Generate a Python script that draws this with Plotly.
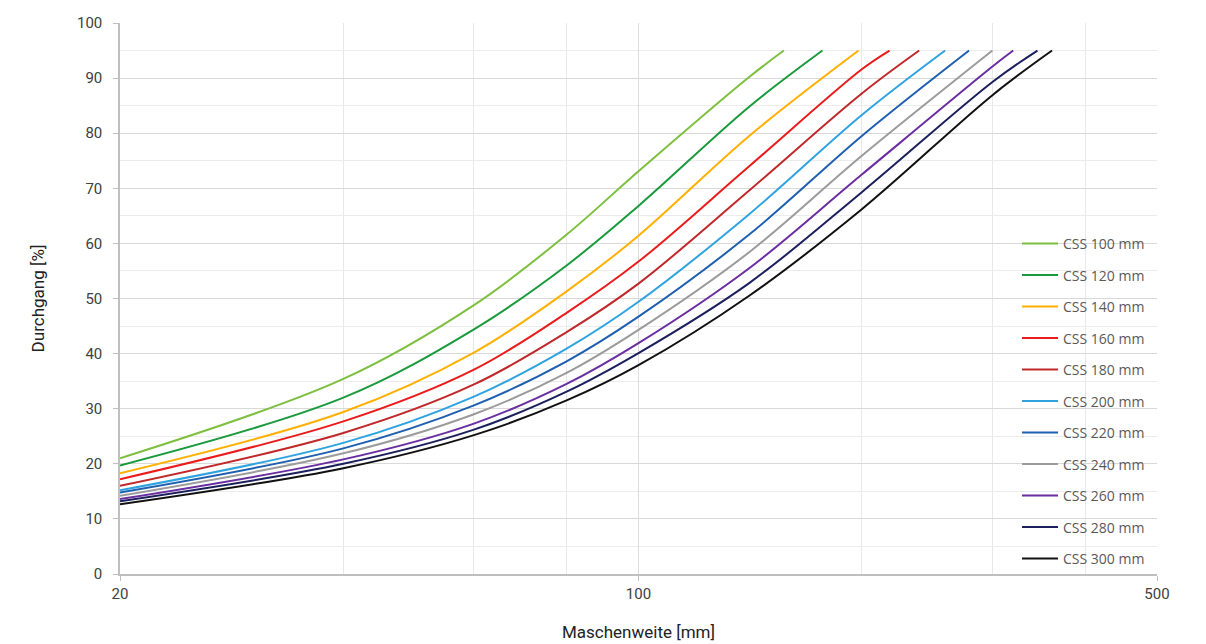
import plotly.graph_objects as go

# CSS settings (mm)
css = [100, 120, 140, 160, 180, 200, 220, 240, 260, 280, 300]
names = [f"CSS {c} mm" for c in css]

# Mesh sizes (mm) at which values were read, per curve; last point = curve end at 95 %
x_100 = [20, 40, 60, 80, 100, 141, 157]
y_100 = [21.0, 35.4, 48.8, 61.6, 73.1, 90.2, 95.0]
x_120 = [20, 40, 60, 80, 100, 141, 177]
y_120 = [19.7, 32.0, 44.4, 56.0, 66.8, 84.8, 95.0]
x_140 = [20, 40, 60, 80, 100, 141, 198]
y_140 = [18.3, 29.4, 40.2, 51.3, 61.4, 79.5, 95.0]
x_160 = [20, 40, 60, 80, 100, 141, 200, 218]
y_160 = [17.2, 27.7, 37.1, 47.4, 56.7, 74.0, 91.6, 95.0]
x_180 = [20, 40, 60, 80, 100, 141, 200, 239]
y_180 = [16.0, 25.6, 34.4, 43.9, 52.7, 69.6, 87.2, 95.0]
x_200 = [20, 40, 60, 80, 100, 141, 200, 259]
y_200 = [15.2, 23.8, 32.2, 40.9, 49.4, 65.3, 83.3, 95.0]
x_220 = [20, 40, 60, 80, 100, 141, 200, 279]
y_220 = [14.8, 22.8, 30.6, 38.6, 46.7, 61.6, 79.5, 95.0]
x_240 = [20, 40, 60, 80, 100, 141, 200, 300]
y_240 = [14.2, 21.9, 29.0, 36.5, 44.3, 58.4, 75.9, 95.0]
x_260 = [20, 40, 60, 80, 100, 141, 200, 300, 320]
y_260 = [13.6, 20.8, 27.3, 34.5, 41.9, 55.5, 72.5, 92.1, 95.0]
x_280 = [20, 40, 60, 80, 100, 141, 200, 300, 345]
y_280 = [13.2, 20.0, 26.2, 33.1, 40.1, 52.8, 69.3, 89.3, 95.0]
x_300 = [20, 40, 60, 80, 100, 141, 200, 300, 361]
y_300 = [12.65, 19.2, 25.2, 31.5, 37.9, 50.5, 66.2, 86.9, 95.0]

xs = [x_100, x_120, x_140, x_160, x_180, x_200, x_220, x_240, x_260, x_280, x_300]
ys = [y_100, y_120, y_140, y_160, y_180, y_200, y_220, y_240, y_260, y_280, y_300]

colors = ["#7dbf3f", "#1a9a3c", "#ffb000", "#ea1b1b", "#c0282a", "#2fa3e0",
          "#1f5fb0", "#9b9b9b", "#6a2ea0", "#1b1f5c", "#111111"]

x_ticks = [20, 100, 500]
x_minor = [40, 60, 80, 200, 300, 400]

fig = go.Figure()
for n, x, y, c in zip(names, xs, ys, colors):
    fig.add_trace(go.Scatter(x=x, y=y, mode="lines", name=n, legendgroup=n,
                             line=dict(color=c, width=2, shape="spline", smoothing=1.0)))

fig.update_layout(
    width=1206, height=644,
    margin=dict(l=112, r=57, t=15, b=78),
    paper_bgcolor="white", plot_bgcolor="white",
    font=dict(family="Roboto, sans-serif", color="#404040"),
    showlegend=True,
    legend=dict(x=0.865, y=0.628, xanchor="left", yanchor="top",
                bgcolor="rgba(0,0,0,0)", tracegroupgap=10.3, itemwidth=36,
                font=dict(size=14, color="#595959", family="Open Sans, sans-serif")),
)

fig.update_xaxes(
    type="log", range=[1.30103, 2.69897], automargin=False,
    tickvals=x_ticks, ticktext=[str(v) for v in x_ticks],
    tickfont=dict(size=15, color="#404040"),
    showgrid=True, gridcolor="#dcdcdc", gridwidth=1,
    showline=True, linecolor="#bfbfbf", linewidth=1.5,
    ticks="outside", ticklen=5, tickcolor="#bfbfbf",
    minor=dict(tickvals=x_minor, showgrid=True, gridcolor="#e8e8e8", ticks=""),
    title=dict(text="Maschenweite [mm]", font=dict(size=17, color="#222222"), standoff=24),
    zeroline=False,
)
fig.update_yaxes(
    range=[0, 100], dtick=10, tick0=0, automargin=False,
    tickfont=dict(size=15, color="#404040"),
    showgrid=True, gridcolor="#d9d9d9", gridwidth=1,
    showline=True, linecolor="#bfbfbf", linewidth=1.5,
    ticks="outside", ticklen=5, tickcolor="#bfbfbf", ticklabelstandoff=8,
    minor=dict(dtick=5, showgrid=True, gridcolor="#ececec", ticks=""),
    title=dict(text="Durchgang [%]", font=dict(size=17, color="#222222"), standoff=28),
    zeroline=False,
)

fig.write_html("out.html")
